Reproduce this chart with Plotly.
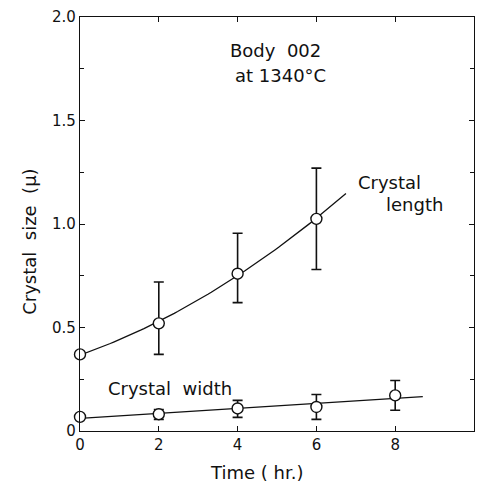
import numpy as np
import plotly.graph_objects as go

# Time (hr) and measured crystal sizes (microns)
length_time = [0, 2, 4, 6]
length_size = [0.37, 0.52, 0.76, 1.025]
length_err_plus = [None, 0.20, 0.195, 0.245]
length_err_minus = [None, 0.15, 0.14, 0.245]

width_time = [0, 2, 4, 6, 8]
width_size = [0.068, 0.081, 0.109, 0.116, 0.172]
width_err_plus = [None, 0.023, 0.039, 0.060, 0.072]
width_err_minus = [None, 0.025, 0.043, 0.060, 0.072]

# extent of the smoothed trend curves
length_curve_end = 6.75
width_curve_end = 8.7

x_ticks = [0, 2, 4, 6, 8]
y_ticks = [0, 0.5, 1.0, 1.5, 2.0]
y_tick_text = ["0", "0.5", "1.0", "1.5", "2.0"]

FONT = "DejaVu Sans"
INK = "#111111"

# smooth trend lines: quadratic for length, linear for width
lc = np.polyfit(length_time, length_size, 2)
lx = np.linspace(0, length_curve_end, 80)
ly = np.polyval(lc, lx)
wc = np.polyfit(width_time, width_size, 1)
wx = np.linspace(0, width_curve_end, 2)
wy = np.polyval(wc, wx)

fig = go.Figure()
fig.add_trace(go.Scatter(x=lx, y=ly, mode="lines",
                         line=dict(color=INK, width=1.3), hoverinfo="skip"))
fig.add_trace(go.Scatter(x=wx, y=wy, mode="lines",
                         line=dict(color=INK, width=1.3), hoverinfo="skip"))

marker = dict(symbol="circle", size=11, color="white",
              line=dict(color=INK, width=1.4))
fig.add_trace(go.Scatter(
    x=length_time, y=length_size, mode="markers", marker=marker, cliponaxis=False,
    error_y=dict(type="data", symmetric=False, array=length_err_plus,
                 arrayminus=length_err_minus, color=INK, thickness=1.6, width=5)))
fig.add_trace(go.Scatter(
    x=width_time, y=width_size, mode="markers", marker=marker, cliponaxis=False,
    error_y=dict(type="data", symmetric=False, array=width_err_plus,
                 arrayminus=width_err_minus, color=INK, thickness=1.6, width=5)))

txt = dict(family=FONT, size=18, color=INK)
fig.add_annotation(x=4.96, y=1.837, text="Body  002", showarrow=False, font=txt)
fig.add_annotation(x=5.1, y=1.718, text="at 1340\u00b0C", showarrow=False, font=txt)
fig.add_annotation(x=7.85, y=1.20, text="Crystal", showarrow=False, font=txt)
fig.add_annotation(x=8.5, y=1.096, text="length", showarrow=False, font=txt)
fig.add_annotation(x=2.28, y=0.206, text="Crystal  width", showarrow=False, font=txt)

fig.add_annotation(xref="paper", yref="paper", x=0.448, y=-0.10,
                   xanchor="center", yanchor="middle",
                   text="Time ( hr.)", showarrow=False, font=txt)
fig.add_annotation(xref="paper", yref="paper", x=-0.127, y=0.457,
                   xanchor="center", yanchor="middle",
                   text="Crystal  size  (\u00b5)", textangle=-90,
                   showarrow=False, font=txt)

axis_common = dict(showgrid=False, zeroline=False, showline=True,
                   linecolor=INK, linewidth=1.2, mirror="ticks",
                   ticks="inside", ticklen=5, tickcolor=INK, tickwidth=1.2,
                   tickfont=dict(family=FONT, size=15, color=INK))

fig.update_xaxes(range=[0, 10], tickvals=x_ticks, ticktext=[str(v) for v in x_ticks],
                 **axis_common)
fig.update_yaxes(range=[0, 2.0], tickvals=y_ticks, ticktext=y_tick_text,
                 minor=dict(ticks="inside", ticklen=4, tickcolor=INK,
                            dtick=0.25, tick0=0, tickwidth=1.2),
                 **axis_common)

fig.update_layout(width=483, height=488, showlegend=False,
                  margin=dict(l=80, r=8, t=13, b=57),
                  paper_bgcolor="white", plot_bgcolor="white")

fig.write_html("out.html")
